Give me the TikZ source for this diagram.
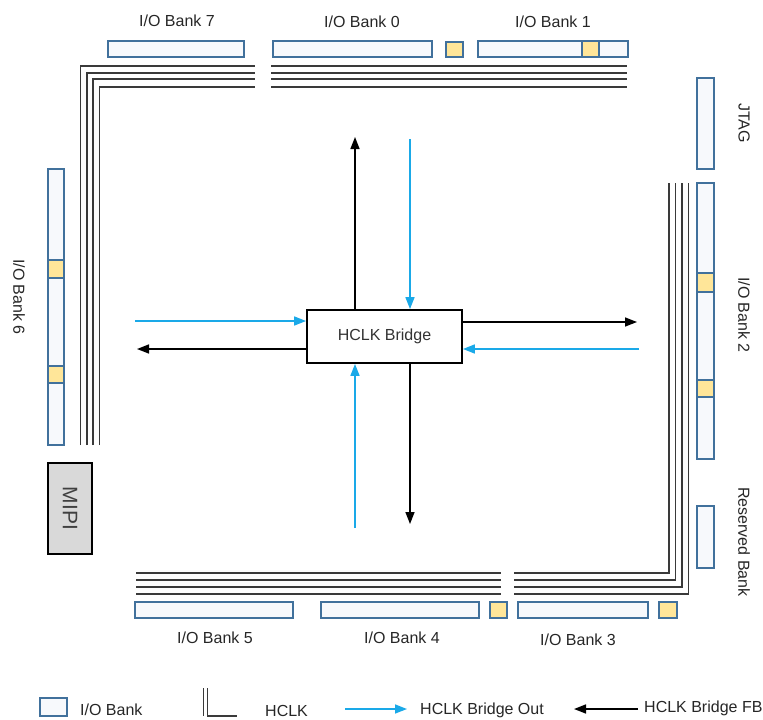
\documentclass[tikz,border=0pt]{standalone}
\usepackage{fontspec}
\setmainfont{Liberation Sans}
\usetikzlibrary{arrows.meta}
\definecolor{bankblue}{HTML}{41719C}
\definecolor{bankfill}{HTML}{F7F9FC}
\definecolor{padyellow}{HTML}{FFE699}
\definecolor{clkgray}{HTML}{3A3A3A}
\definecolor{outblue}{HTML}{1AA9E8}
\definecolor{mipigray}{HTML}{D9D9D9}
\begin{document}
\begin{tikzpicture}[x=1pt,y=-1pt,
  bank/.style={draw=bankblue,fill=bankfill,line width=2.2pt},
  pad/.style={draw=bankblue,fill=padyellow,line width=2.2pt},
  clk/.style={draw=clkgray,line width=1.6pt},
  lbl/.style={font=\fontsize{16}{19}\selectfont,text=black!85,inner sep=0pt},
  vlbl/.style={lbl,rotate=-90},
  bridgeout/.style={draw=outblue,line width=1.5pt,-{Triangle[length=12pt,width=9pt]}},
  bridgefb/.style={draw=black,line width=1.5pt,-{Triangle[length=12pt,width=9pt]}}
]
\useasboundingbox (0,0) rectangle (763,720);

% ---------- top banks ----------
\draw[bank] (108,41) rectangle (244,57);
\draw[bank] (273,41) rectangle (432,57);
\draw[pad]  (446,42) rectangle (463,57);
\draw[bank] (478,41) rectangle (628,57);
\draw[pad]  (582,41) rectangle (599,57);
\node[lbl] (l7) at (177,21) {I/O Bank 7};
\node[lbl] (l0) at (362,22) {I/O Bank 0};
\node[lbl] (l1) at (553,22) {I/O Bank 1};

% ---------- left side ----------
\draw[bank] (48,169) rectangle (64,445);
\draw[pad]  (48,260) rectangle (64,278);
\draw[pad]  (48,366) rectangle (64,383);
\node[vlbl] (l6) at (19,297) {I/O Bank 6};
\node[draw=black,fill=mipigray,line width=1.8pt,minimum width=44pt,minimum height=91pt,inner sep=0pt] (mipi) at (70,508.5) {};
\node[rotate=-90,font=\fontsize{21}{25}\selectfont,text=black!75] (mipit) at (mipi.center) {MIPI};

% ---------- right side ----------
\draw[bank] (697,78) rectangle (714,169);
\draw[bank] (697,183) rectangle (714,459);
\draw[pad]  (697,273) rectangle (714,292);
\draw[pad]  (697,380) rectangle (714,397);
\draw[bank] (697,506) rectangle (714,568);
\node[vlbl] (ljtag) at (744,123) {JTAG};
\node[vlbl] (l2) at (744,315) {I/O Bank 2};
\node[vlbl] (lres) at (744,542) {Reserved Bank};

% ---------- bottom banks ----------
\draw[bank] (135,602) rectangle (293,618);
\draw[bank] (321,602) rectangle (479,618);
\draw[pad]  (490,602) rectangle (507,618);
\draw[bank] (518,602) rectangle (648,618);
\draw[pad]  (659,602) rectangle (677,618);
\node[lbl] (l5) at (215,638) {I/O Bank 5};
\node[lbl] (l4) at (402,638) {I/O Bank 4};
\node[lbl] (l3) at (578,640) {I/O Bank 3};

% ---------- HCLK lines ----------
\foreach \x/\y in {80.5/66,87/73,93/79,99.5/87}{
  \draw[clk] (\x,445) -- (\x,\y) -- (255,\y);
  \draw[clk] (271,\y) -- (627,\y);
}
\foreach \x/\y in {669/573,675.5/580,682/587,688.5/594}{
  \draw[clk] (\x,183) -- (\x,\y) -- (514,\y);
  \draw[clk] (136,\y) -- (501,\y);
}

% ---------- HCLK bridge ----------
\node[draw=black,fill=white,line width=1.8pt,minimum width=155pt,minimum height=53pt,inner sep=0pt,
      font=\fontsize{16}{19}\selectfont,text=black!80] (br) at (384.5,336.5) {HCLK Bridge};

\coordinate (upend) at (355,137);
\coordinate (dnstart) at (410,139);
\coordinate (lin) at (135,321);
\coordinate (lout) at (137,349);
\coordinate (rout) at (637,322);
\coordinate (rin) at (639,349);
\coordinate (bin) at (355,528);
\coordinate (bout) at (410,524);

\draw[bridgefb] (br.north -| upend) -- (upend);
\draw[bridgeout] (dnstart) -- (br.north -| dnstart);
\draw[bridgeout] (lin) -- (br.west |- lin);
\draw[bridgefb] (br.west |- lout) -- (lout);
\draw[bridgefb] (br.east |- rout) -- (rout);
\draw[bridgeout] (rin) -- (br.east |- rin);
\draw[bridgeout] (bin) -- (br.south -| bin);
\draw[bridgefb] (br.south -| bout) -- (bout);

% ---------- legend ----------
\draw[bank] (40,698) rectangle (67,716);
\node[lbl,anchor=west] (lg1) at (80,710) {I/O Bank};
\draw[clk,line width=1.4pt] (203.5,688) -- (203.5,716);
\draw[clk,line width=1.4pt] (207.5,688) -- (207.5,716) -- (237,716);
\node[lbl,anchor=west] (lg2) at (265,711) {HCLK};
\coordinate (lgbs) at (345,709);
\coordinate (lgbe) at (407,709);
\draw[bridgeout] (lgbs) -- (lgbe);
\node[lbl,anchor=west] (lg3) at (420,710) {HCLK Bridge Out};
\coordinate (lgks) at (638,709);
\coordinate (lgke) at (574,709);
\draw[bridgefb] (lgks) -- (lgke);
\node[lbl,anchor=west] (lg4) at (644,708) {HCLK Bridge FB};
\end{tikzpicture}
\end{document}
